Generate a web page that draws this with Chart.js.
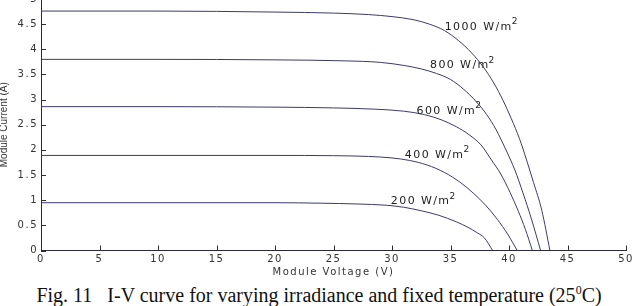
<!DOCTYPE html>
<html>
<head>
<meta charset="utf-8">
<script src="https://cdn.jsdelivr.net/npm/chart.js@4.4.1/dist/chart.umd.min.js"></script>
<style>
  body { margin: 0; width: 638px; height: 306px; overflow: hidden; background: #fff; position: relative; }
  #wrap { position: absolute; left: 0; top: -10px; width: 638px; height: 290px; }
  #cap { position: absolute; left: 0; top: 283px; width: 638px; text-align: center;
         font-family: "Liberation Serif", serif; font-size: 20px; color: #111; white-space: nowrap; }
  #cap sup { font-size: 12px; }
</style>
</head>
<body>
<div id="wrap"><canvas id="myChart"></canvas></div>
<div id="cap">Fig. 11&nbsp;&nbsp; I-V curve for varying irradiance and fixed temperature (25<sup>0</sup>C)</div>
<script>
// tick values
const xTicks = [0, 5, 10, 15, 20, 25, 30, 35, 40, 45, 50];
const yTicks = [0, 0.5, 1, 1.5, 2, 2.5, 3, 3.5, 4, 4.5, 5];

// curves: voltage (V) / current (A)
const v1000 = [0, 10, 20, 25, 28, 30, 31.8, 33.2, 34.5, 35.7, 36.8, 37.8, 38.7, 39.5, 40.2, 40.9, 41.5, 42.1, 42.8, 43.5];
const i1000 = [4.76, 4.76, 4.74, 4.72, 4.69, 4.65, 4.59, 4.50, 4.37, 4.17, 3.93, 3.65, 3.33, 2.98, 2.62, 2.22, 1.80, 1.35, 0.80, 0];
const v800 = [0, 10, 20, 26, 29, 31, 32.5, 33.8, 35, 36.1, 37.2, 38.1, 38.9, 39.7, 40.5, 41.2, 41.9, 42.7];
const i800 = [3.80, 3.80, 3.79, 3.77, 3.74, 3.68, 3.61, 3.52, 3.40, 3.21, 2.96, 2.70, 2.40, 2.02, 1.60, 1.14, 0.64, 0];
const v600 = [0, 10, 20, 25, 28.5, 31, 32.8, 34.2, 35.5, 36.6, 37.6, 38.5, 39.3, 40.1, 40.8, 41.4, 42.0];
const i600 = [2.86, 2.86, 2.85, 2.835, 2.81, 2.77, 2.70, 2.60, 2.46, 2.30, 2.10, 1.80, 1.52, 1.15, 0.78, 0.42, 0];
const v400 = [0, 10, 20, 25, 28, 30, 31.5, 33, 34.5, 35.8, 37, 38, 39, 39.9, 40.7];
const i400 = [1.89, 1.89, 1.89, 1.885, 1.87, 1.84, 1.79, 1.70, 1.55, 1.36, 1.13, 0.90, 0.62, 0.32, 0];
const v200 = [0, 10, 20, 24, 27, 29.5, 31, 32.5, 34, 35.5, 36.5, 37.3, 37.9, 38.6];
const i200 = [0.95, 0.95, 0.95, 0.94, 0.925, 0.90, 0.86, 0.79, 0.70, 0.57, 0.46, 0.35, 0.25, 0];

// curve labels and where they sit (data units)
const labelText = ['1000 W/m', '800 W/m', '600 W/m', '400 W/m', '200 W/m'];
const labelV = [34.5, 33.25, 32.1, 31.1, 29.9];
const labelI = [4.45, 3.68, 2.78, 1.90, 0.98];

const yTitle = 'Module Current (A)';

const lineColor = '#3b3b6b';
const tickFont = { family: 'DejaVu Sans', size: 10 };

const toPoints = (vs, is) => vs.map((v, k) => ({ x: v, y: is[k] }));

const curves = [
  toPoints(v1000, i1000),
  toPoints(v800, i800),
  toPoints(v600, i600),
  toPoints(v400, i400),
  toPoints(v200, i200)
];

// wide matlab-ish letter spacing for the axis text
const spacing = {
  id: 'spacing',
  beforeUpdate(chart) { chart.ctx.letterSpacing = '1.5px'; },
  beforeDraw(chart) { chart.ctx.letterSpacing = '1.5px'; }
};

// ticks pointing into the plot, the curve labels and the rotated y title
const extras = {
  id: 'extras',
  afterDraw(chart) {
    const { ctx, chartArea, scales } = chart;
    const xs = scales.x, ys = scales.y;
    ctx.save();
    ctx.strokeStyle = '#2a2a3a';
    ctx.lineWidth = 1;
    ctx.beginPath();
    for (const t of xTicks) {
      const px = Math.round(xs.getPixelForValue(t)) + 0.5;
      ctx.moveTo(px, chartArea.bottom);
      ctx.lineTo(px, chartArea.bottom - 5);
    }
    for (const t of yTicks) {
      const py = Math.round(ys.getPixelForValue(t)) + 0.5;
      ctx.moveTo(chartArea.left, py);
      ctx.lineTo(chartArea.left + 5, py);
    }
    ctx.stroke();

    ctx.fillStyle = '#222';
    ctx.textBaseline = 'middle';
    ctx.textAlign = 'left';
    ctx.letterSpacing = '1.4px';
    labelText.forEach((txt, k) => {
      const px = xs.getPixelForValue(labelV[k]);
      const py = ys.getPixelForValue(labelI[k]);
      ctx.font = '11px "DejaVu Sans"';
      ctx.fillText(txt, px, py);
      const w = ctx.measureText(txt).width;
      ctx.font = '9px "DejaVu Sans"';
      ctx.fillText('2', px + w - 1, py - 5);
    });

    ctx.letterSpacing = '0px';
    ctx.fillStyle = '#333';
    ctx.font = '10px "Liberation Sans"';
    ctx.textAlign = 'center';
    ctx.textBaseline = 'alphabetic';
    ctx.translate(7, (chartArea.top + chartArea.bottom) / 2);
    ctx.rotate(-Math.PI / 2);
    ctx.fillText(yTitle, 0, 0);
    ctx.restore();
  }
};

const ctx = document.getElementById('myChart');

new Chart(ctx, {
  type: 'scatter',
  data: {
    datasets: curves.map((pts, k) => ({
      label: labelText[k] + '2',
      data: pts,
      showLine: true,
      borderColor: lineColor,
      borderWidth: 1,
      pointRadius: 0,
      cubicInterpolationMode: 'monotone'
    }))
  },
  options: {
    responsive: true,
    maintainAspectRatio: false,
    animation: false,
    devicePixelRatio: 1,
    layout: { padding: { top: 6.5, right: 12, left: 0, bottom: 0 } },
    plugins: { legend: { display: false }, tooltip: { enabled: false } },
    scales: {
      x: {
        type: 'linear',
        min: 0,
        max: 50,
        afterBuildTicks: (s) => { s.ticks = xTicks.map(v => ({ value: v })); },
        afterFit: (s) => { s.height = 29.5; },
        grid: { display: false, drawTicks: false },
        border: { display: true, color: '#2a2a3a', width: 1 },
        ticks: { font: tickFont, color: '#333', padding: 3, maxRotation: 0, callback: (v) => String(v) },
        title: { display: true, text: 'Module Voltage (V)', font: tickFont, color: '#333', padding: { top: 0, bottom: 2 } }
      },
      y: {
        type: 'linear',
        min: 0,
        max: 5,
        afterBuildTicks: (s) => { s.ticks = yTicks.map(v => ({ value: v })); },
        afterFit: (s) => { s.width = 41; },
        grid: { display: false, drawTicks: false },
        border: { display: true, color: '#2a2a3a', width: 1 },
        ticks: { font: tickFont, color: '#333', padding: 3, callback: (v) => String(v) },
        title: { display: false }
      }
    }
  },
  plugins: [spacing, extras]
});
</script>
</body>
</html>
